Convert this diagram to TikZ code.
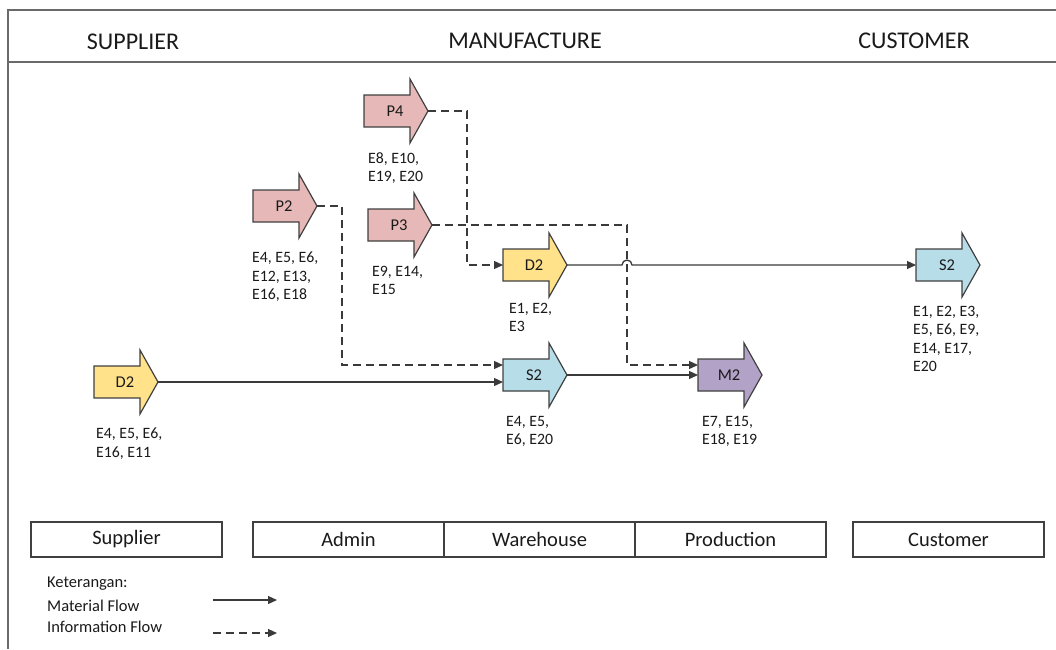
\documentclass[tikz,border=0pt]{standalone}
\usepackage{fontspec}
\setmainfont{Carlito}
\usetikzlibrary{arrows.meta}
\definecolor{pinkf}{HTML}{E6B9B8}
\definecolor{yelf}{HTML}{FFE28A}
\definecolor{bluef}{HTML}{B7DDE8}
\definecolor{purf}{HTML}{B3A2C7}
\definecolor{outl}{HTML}{404040}
\definecolor{conn}{HTML}{3A3A3A}
\definecolor{txt}{HTML}{1A1A1A}
\definecolor{framec}{HTML}{6A6A6A}
\tikzset{
  vsmshape/.style={draw=outl, line width=1.2pt, line join=miter},
  vsmlbl/.style={font=\fontsize{16.5}{18}\selectfont, text=txt, inner sep=0pt},
  elbl/.style={font=\fontsize{15.8}{18.5}\selectfont, text=txt, align=left, anchor=north west, inner sep=0pt},
  mflow/.style={draw=conn, line width=1.3pt, -{Triangle[length=9pt,width=8pt]}},
  iflow/.style={mflow, dash pattern=on 8pt off 5pt},
  framel/.style={draw=framec, line width=2pt},
  head/.style={font=\fontsize{24}{26}\selectfont, text=txt},
  deptbox/.style={draw=outl, line width=1.2pt, minimum width=191pt, minimum height=35pt, inner sep=0pt, font=\fontsize{20.5}{22}\selectfont, text=txt},
  legtxt/.style={font=\fontsize{16.5}{18}\selectfont, text=txt, anchor=west, inner sep=0pt},
}
% #1 name, #2 left x, #3 centre y, #4 fill, #5 label
\newcommand\vsmproc[5]{%
  \draw[vsmshape, fill=#4] (#2,#3-16) -- (#2+46,#3-16) -- (#2+46,#3-32) -- (#2+64,#3)
     -- (#2+46,#3+32) -- (#2+46,#3+16) -- (#2,#3+16) -- cycle;
  \node[vsmlbl] (#1) at (#2+31,#3) {#5};
  \coordinate (#1-tip) at (#2+64,#3);
  \coordinate (#1-in) at (#2,#3);
}
\begin{document}
\begin{tikzpicture}[x=1pt,y=-1pt]
\useasboundingbox (0,0) rectangle (1056,649);
% frame
\draw[framel] (1056,10) -- (8,10) -- (8,649);
\draw[framel] (8,62) -- (1056,62);
\node[head] (hsup) at (133,42) {SUPPLIER};
\node[head] (hman) at (525,41) {MANUFACTURE};
\node[head] (hcus) at (914,41) {CUSTOMER};

% process arrows
\vsmproc{p4}{364}{111}{pinkf}{P4}
\vsmproc{p2}{253}{206}{pinkf}{P2}
\vsmproc{p3}{368}{225}{pinkf}{P3}
\vsmproc{d2a}{503}{265}{yelf}{D2}
\vsmproc{s2a}{503}{375}{bluef}{S2}
\vsmproc{m2}{698}{375}{purf}{M2}
\vsmproc{d2b}{94}{382}{yelf}{D2}
\vsmproc{s2b}{916}{265}{bluef}{S2}

% element labels
\node[elbl] (tp4) at (368,152) {E8, E10,\\E19, E20};
\node[elbl] (tp2) at (252,252) {E4, E5, E6,\\E12, E13,\\E16, E18};
\node[elbl] (tp3) at (372,266) {E9, E14,\\E15};
\node[elbl] (td2a) at (509,303) {E1, E2,\\E3};
\node[elbl] (ts2a) at (506,416) {E4, E5,\\E6, E20};
\node[elbl] (tm2) at (702,416) {E7, E15,\\E18, E19};
\node[elbl] (td2b) at (96,428) {E4, E5, E6,\\E16, E11};
\node[elbl] (ts2b) at (913,306) {E1, E2, E3,\\E5, E6, E9,\\E14, E17,\\E20};

% connectors
\draw[iflow] (p2-tip) -- ++(25,0) |- ([yshift=10pt]s2a-in);
\draw[iflow] (p4-tip) -- ++(39,0) |- (d2a-in);
\draw[iflow] (p3-tip) -- ++(195,0) |- ([yshift=10pt]m2-in);
\draw[mflow] (d2b-tip) -- (d2b-tip -| s2a-in);
\draw[mflow] (s2a-tip) -- (m2-in);
\draw[mflow] (d2a-tip) -- ++(55,0) arc[start angle=180, end angle=0, radius=5pt] -- (s2b-in);

% department boxes
\node[deptbox] (bsup) at (126.5,539.5) {Supplier};
\node[deptbox] (badm) at (348.5,539.5) {Admin};
\node[deptbox] (bwar) at (539.5,539.5) {Warehouse};
\node[deptbox] (bpro) at (730.5,539.5) {Production};
\node[deptbox] (bcus) at (948.5,539.5) {Customer};

% legend
\node[legtxt] (lk) at (47,584) {Keterangan:};
\node[legtxt] (lm) at (47,606) {Material Flow};
\node[legtxt] (li) at (47,627) {Information Flow};
\coordinate (lma) at (213,600);
\coordinate (lmb) at (277,600);
\coordinate (lia) at (213,633);
\coordinate (lib) at (277,633);
\draw[mflow] (lma) -- (lmb);
\draw[iflow] (lia) -- (lib);
\end{tikzpicture}
\end{document}
